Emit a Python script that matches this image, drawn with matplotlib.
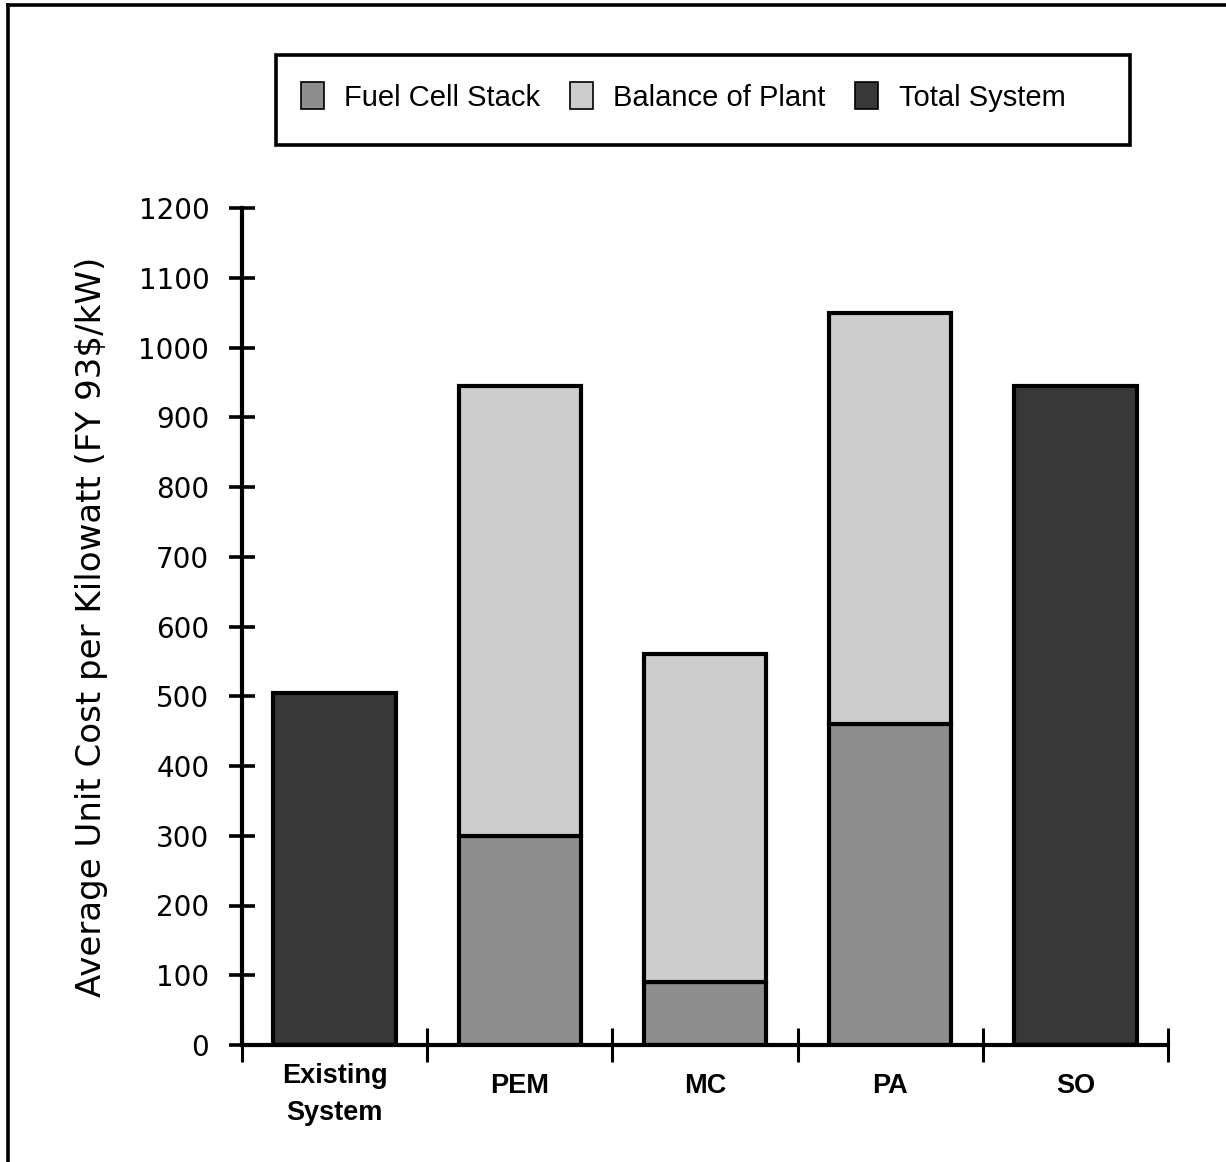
import matplotlib
matplotlib.use("Agg")
import matplotlib.pyplot as plt
from matplotlib.patches import Rectangle, Patch
from matplotlib.lines import Line2D
from matplotlib import font_manager

# Data: average unit cost per kilowatt (FY 93$/kW)
categories = ["Existing\nSystem", "PEM", "MC", "PA", "SO"]
fuel_cell_stack = [0, 300, 90, 460, 0]
balance_of_plant = [0, 645, 470, 590, 0]
total_system = [505, 0, 0, 0, 945]
y_ticks = [0, 100, 200, 300, 400, 500, 600, 700, 800, 900, 1000, 1100, 1200]

names = {f.name for f in font_manager.fontManager.ttflist}
narrow = "Liberation Sans Narrow" if "Liberation Sans Narrow" in names else "Liberation Sans"

c_total = "#383838"
c_stack = "#8e8e8e"
c_bop = "#cdcdcd"

W, H = 1226, 1162
fig = plt.figure(figsize=(W / 100, H / 100), dpi=100)

# Page frame lines (left and top)
fig.add_artist(Line2D([8 / W, 8 / W], [0, 1 - 5 / H], transform=fig.transFigure,
                      color="black", lw=2.6))
fig.add_artist(Line2D([8 / W, 1], [1 - 5 / H, 1 - 5 / H], transform=fig.transFigure,
                      color="black", lw=2.6))

ax = fig.add_axes([242 / W, 1 - 1045 / H, (1168 - 242) / W, (1045 - 208) / H])
x = list(range(len(categories)))
bw = 0.66
ekw = dict(edgecolor="black", linewidth=3.0, width=bw)
ax.bar(x, total_system, color=c_total, **ekw)
ax.bar(x, fuel_cell_stack, color=c_stack, **ekw)
ax.bar(x, balance_of_plant, bottom=fuel_cell_stack, color=c_bop, **ekw)

ax.set_xlim(-0.5, len(categories) - 0.5)
ax.set_ylim(0, 1200)
for s in ["top", "right"]:
    ax.spines[s].set_visible(False)
for s in ["left", "bottom"]:
    ax.spines[s].set_linewidth(3.0)

ax.set_yticks(y_ticks)
ax.set_yticklabels([str(v) for v in y_ticks], family="DejaVu Sans", fontsize=20)
ax.set_xticks([i - 0.5 for i in range(len(categories) + 1)])
ax.set_xticklabels([])
ax.tick_params(axis="y", direction="inout", length=19, width=2.6, pad=14)
ax.tick_params(axis="x", direction="inout", length=24, width=2.2)

for i, lab in enumerate(categories):
    ytop = -0.021 if "\n" in lab else -0.033
    ax.text(i, ytop, lab, transform=ax.get_xaxis_transform(), ha="center", va="top",
            family=narrow, fontsize=19.5, fontweight="bold", linespacing=1.55)

ax.set_ylabel("Average Unit Cost per Kilowatt (FY 93$/kW)", family="DejaVu Sans",
              fontsize=24.5, labelpad=22)

# Legend box
fig.add_artist(Rectangle((276 / W, 1 - 145 / H), (1130 - 276) / W, (145 - 55) / H,
                         transform=fig.transFigure, fill=False, edgecolor="black",
                         linewidth=2.6))
handles = [Patch(facecolor=c_stack, edgecolor="black", linewidth=1.2),
           Patch(facecolor=c_bop, edgecolor="black", linewidth=1.2),
           Patch(facecolor=c_total, edgecolor="black", linewidth=1.2)]
fig.legend(handles, ["Fuel Cell Stack", "Balance of Plant", "Total System"],
           loc="center", bbox_to_anchor=(683 / W, 1 - 97 / H), ncol=3, frameon=False,
           prop={"family": narrow, "size": 21}, handlelength=0.8, handleheight=1.0,
           handletextpad=0.7, columnspacing=1.0)

fig.savefig("out.png", dpi=100)
